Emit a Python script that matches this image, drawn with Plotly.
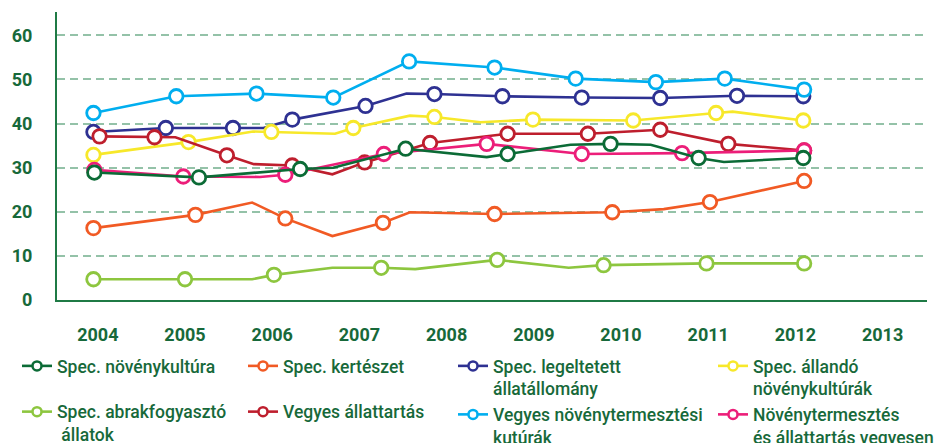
import plotly.graph_objects as go

# ---------------- data ----------------
YEARS = [2004, 2005, 2006, 2007, 2008, 2009, 2010, 2011, 2012, 2013]
Y_TICKS = [0, 10, 20, 30, 40, 50, 60]

# x: position along the time axis (fractional years), y: value, m: vertex carries a marker
noveny_x = [2003.96, 2005.16, 2006.32, 2006.70, 2007.53, 2008.46, 2008.70, 2009.42, 2009.88, 2010.34, 2010.89, 2011.18, 2012.09]
noveny_y = [28.9, 27.8, 29.7, 30.0, 34.3, 32.4, 33.1, 35.2, 35.4, 35.2, 32.2, 31.3, 32.2]
noveny_m = [1, 1, 1, 0, 1, 0, 1, 0, 1, 0, 1, 0, 1]

kert_x = [2003.95, 2005.12, 2005.77, 2006.15, 2006.69, 2007.27, 2007.58, 2008.55, 2009.90, 2010.49, 2011.02, 2012.10]
kert_y = [16.3, 19.3, 22.1, 18.5, 14.5, 17.5, 19.9, 19.5, 19.9, 20.6, 22.2, 27.0]
kert_m = [1, 1, 0, 1, 0, 1, 0, 1, 1, 0, 1, 1]

legel_x = [2003.95, 2004.78, 2005.55, 2005.90, 2006.23, 2007.07, 2007.54, 2007.86, 2008.64, 2009.55, 2010.45, 2011.33, 2012.09]
legel_y = [38.1, 39.0, 39.0, 39.0, 40.9, 44.0, 46.8, 46.7, 46.2, 45.9, 45.8, 46.3, 46.2]
legel_m = [1, 1, 1, 0, 1, 1, 0, 1, 1, 1, 1, 1, 1]

allando_x = [2003.95, 2005.04, 2005.78, 2005.99, 2006.72, 2006.93, 2007.58, 2007.86, 2008.39, 2008.99, 2010.14, 2011.09, 2011.28, 2012.09]
allando_y = [32.9, 35.8, 38.2, 38.1, 37.7, 39.0, 41.8, 41.5, 40.3, 40.9, 40.7, 42.4, 42.7, 40.7]
allando_m = [1, 1, 0, 1, 0, 1, 0, 1, 0, 1, 1, 1, 0, 1]

abrak_x = [2003.95, 2005.00, 2005.77, 2006.02, 2006.69, 2007.25, 2007.64, 2008.58, 2009.40, 2009.80, 2010.98, 2012.10]
abrak_y = [4.7, 4.7, 4.7, 5.7, 7.3, 7.3, 7.0, 9.1, 7.3, 7.9, 8.3, 8.3]
abrak_m = [1, 1, 0, 1, 0, 1, 0, 1, 0, 1, 1, 1]

allat_x = [2004.02, 2004.65, 2004.89, 2005.48, 2005.79, 2006.23, 2006.69, 2007.06, 2007.81, 2008.70, 2009.62, 2010.45, 2011.23, 2012.10]
allat_y = [37.1, 36.9, 36.9, 32.8, 30.8, 30.5, 28.5, 31.2, 35.6, 37.7, 37.7, 38.6, 35.4, 33.9]
allat_m = [1, 1, 0, 1, 0, 1, 0, 1, 1, 1, 1, 1, 1, 1]

vegyesn_x = [2003.95, 2004.90, 2005.82, 2006.70, 2007.57, 2008.55, 2009.48, 2010.40, 2011.19, 2012.10]
vegyesn_y = [42.4, 46.2, 46.8, 45.9, 54.1, 52.7, 50.2, 49.4, 50.2, 47.7]
vegyesn_m = [1, 1, 1, 1, 1, 1, 1, 1, 1, 1]

nta_x = [2003.96, 2004.98, 2005.86, 2006.15, 2007.28, 2008.46, 2009.55, 2010.70, 2012.10]
nta_y = [29.5, 28.0, 27.9, 28.4, 33.1, 35.4, 33.1, 33.3, 33.9]
nta_m = [1, 1, 0, 1, 1, 1, 1, 1, 1]

SERIES = [
    ("Spec. növénykultúra", noveny_x, noveny_y, noveny_m, "#0b6b36", "legend"),
    ("Spec. abrakfogyasztó<br> állatok", abrak_x, abrak_y, abrak_m, "#8dc63f", "legend"),
    ("Spec. kertészet", kert_x, kert_y, kert_m, "#f15a24", "legend2"),
    ("Vegyes állattartás", allat_x, allat_y, allat_m, "#be1e2d", "legend2"),
    ("Spec. legeltetett<br>állatállomány", legel_x, legel_y, legel_m, "#2e3192", "legend3"),
    ("Vegyes növénytermesztési<br>kutúrák", vegyesn_x, vegyesn_y, vegyesn_m, "#00aeef", "legend3"),
    ("Spec. állandó<br>növénykultúrák", allando_x, allando_y, allando_m, "#f7e82a", "legend4"),
    ("Növénytermesztés<br>és állattartás vegyesen", nta_x, nta_y, nta_m, "#ec1e79", "legend4"),
]

TEXT = "#17693a"
FONT = "Roboto"
W, H = 934, 435  # the page adds an 8px body margin around the figure

fig = go.Figure()
draw_order = [4, 6, 5, 3, 7, 0, 2, 1]
for i in draw_order:
    name, xs, ys, ms, col, lg = SERIES[i]
    fig.add_trace(go.Scatter(x=xs, y=ys, mode="lines", line=dict(color=col, width=2.6),
                             showlegend=False, hoverinfo="skip"))
    mx = [x for x, m in zip(xs, ms) if m]
    my = [y for y, m in zip(ys, ms) if m]
    fig.add_trace(go.Scatter(x=mx, y=my, mode="markers", showlegend=False,
                             marker=dict(symbol="circle", size=13.5, color="white",
                                         line=dict(color=col, width=2.8))))

for i, (name, xs, ys, ms, col, lg) in enumerate(SERIES):
    fig.add_trace(go.Scatter(x=[None], y=[None], mode="lines+markers", name=name,
                             legend=lg, legendgroup=f"g{i}",
                             line=dict(color=col, width=2.6),
                             marker=dict(symbol="circle", size=9, color="white",
                                         line=dict(color=col, width=2.5))))

legend_common = dict(orientation="v", xref="container", yref="container",
                     xanchor="left", yanchor="top", valign="top",
                     bgcolor="rgba(0,0,0,0)",
                     font=dict(family=FONT, size=17.5, color=TEXT, weight=500))
ytop = 1 - 340 / H
fig.update_layout(
    legend=dict(x=9 / W, y=ytop, tracegroupgap=20, **legend_common),
    legend2=dict(x=235 / W, y=ytop, tracegroupgap=20, **legend_common),
    legend3=dict(x=445 / W, y=ytop, tracegroupgap=0, **legend_common),
    legend4=dict(x=705 / W, y=ytop, tracegroupgap=0, **legend_common),
)

fig.update_layout(
    width=W, height=H,
    margin=dict(l=49, r=15, t=4, b=143, autoexpand=False),
    paper_bgcolor="white", plot_bgcolor="white",
    showlegend=True,
    xaxis=dict(range=[2003.532, 2013.509], tickvals=YEARS, ticktext=[str(y) for y in YEARS],
               showgrid=False, zeroline=False, showline=True, linecolor="#1f7a45", linewidth=2,
               ticks="", ticklabelstandoff=17,
               tickfont=dict(family=FONT, size=18, color=TEXT, weight=700)),
    yaxis=dict(range=[0, 65.3], tickvals=Y_TICKS, ticktext=[str(v) for v in Y_TICKS],
               showgrid=True, gridcolor="#94c2a8", gridwidth=1.5, griddash="8px,5px",
               zeroline=False, showline=True, linecolor="#1f7a45", linewidth=2,
               ticks="", ticklabelstandoff=19,
               tickfont=dict(family=FONT, size=18, color=TEXT, weight=700)),
)

fig.write_html("out.html")
